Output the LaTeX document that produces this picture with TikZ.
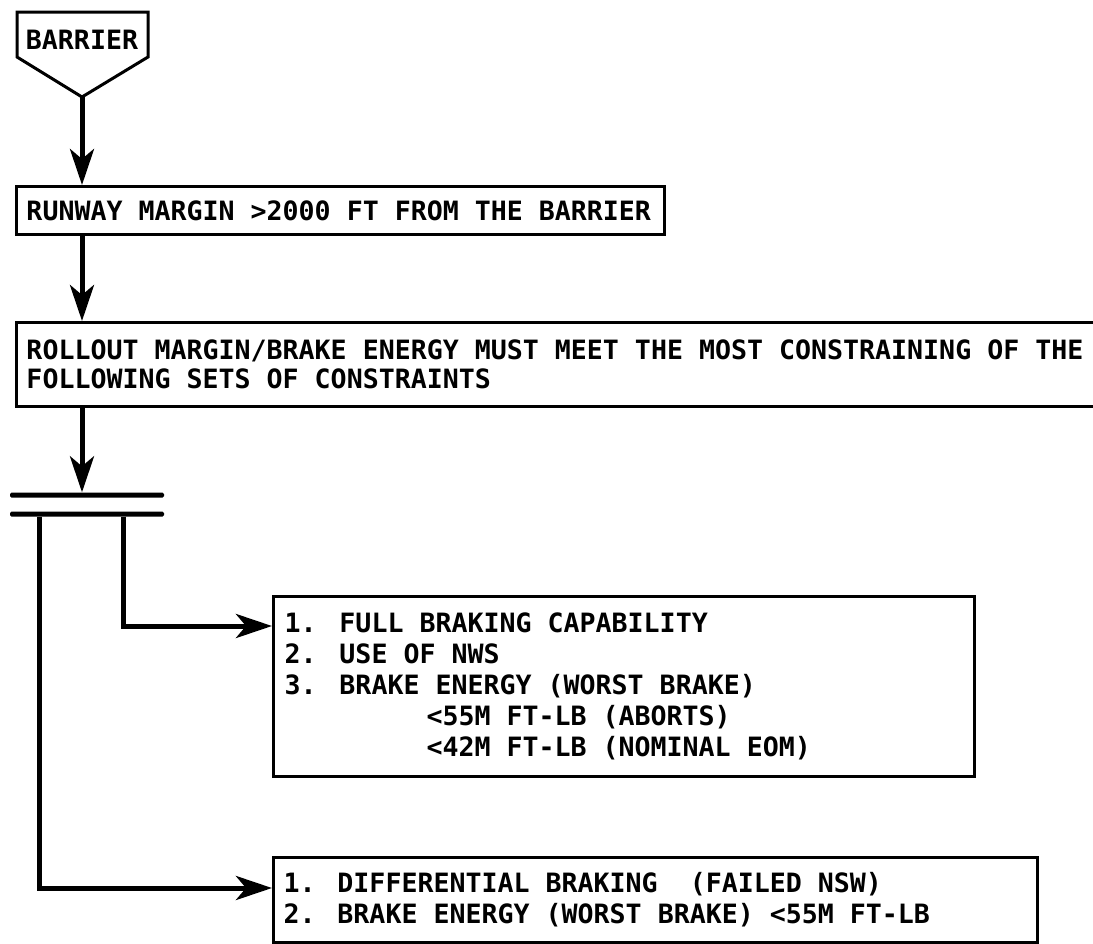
\documentclass[tikz,border=0pt]{standalone}
\usepackage{fontspec}
\newfontfamily\lettering{DejaVu Sans Mono Bold}
\usetikzlibrary{arrows.meta}
\newcommand\letterfont[1]{\lettering\fontsize{26.6}{#1}\selectfont}
\newcommand\fixsp{\spaceskip=\fontcharwd\font`A\relax\xspaceskip=\spaceskip}
\begin{document}
\begin{tikzpicture}[x=1pt,y=-1pt,
  txt/.style={font=\letterfont{31}},
  box/.style={txt, draw, line width=3pt, rectangle, inner ysep=0pt, align=left, anchor=north west},
  conn/.style={line width=5pt, -{Stealth[length=36pt,width=24pt,inset=10pt]}},
  bar/.style={fill=black, draw=none, rectangle, rounded corners=1.5pt, inner sep=0pt, minimum width=154pt, minimum height=5pt}]
\useasboundingbox (0,0) rectangle (1093,943);
\clip (0,0) rectangle (1093,943);

% barrier connector symbol
\node[txt, inner sep=0pt] (barrier) at (82,40) {BARRIER};
\coordinate (btip) at (82,97);
\draw[line width=3pt, line join=miter] (17,12) -- (148,12) -- (148,57) -- (btip) -- (17,57) -- cycle;

% boxes
\node[box, inner xsep=10pt, text width=628pt, minimum height=48pt] (runway) at (15,185)
  {\fixsp RUNWAY MARGIN >2000 FT FROM THE BARRIER};
\node[box, inner xsep=10pt, text width=1100pt, minimum height=84pt, font=\letterfont{29}] (rollout) at (15,321)
  {\fixsp ROLLOUT MARGIN/BRAKE ENERGY MUST MEET THE MOST CONSTRAINING OF THE\\
   FOLLOWING SETS OF CONSTRAINTS};

\node[bar] (bar1) at (87,495) {};
\node[bar] (bar2) at (87,514) {};

\node[box, inner xsep=11pt, text width=679pt, minimum height=180pt] (opt1) at (272,595)
  {\fixsp\makebox[55pt][l]{1.}FULL BRAKING CAPABILITY\\
   \makebox[55pt][l]{2.}USE OF NWS\\
   \makebox[55pt][l]{3.}BRAKE ENERGY (WORST BRAKE)\\
   \hspace*{142pt}<55M FT-LB (ABORTS)\\
   \hspace*{142pt}<42M FT-LB (NOMINAL EOM)};

\node[box, inner xsep=10pt, text width=744pt, minimum height=85pt] (opt2) at (272,856)
  {\fixsp\makebox[54pt][l]{1.}DIFFERENTIAL BRAKING~~(FAILED NSW)\\
   \makebox[54pt][l]{2.}BRAKE ENERGY (WORST BRAKE) <55M FT-LB};

% connectors
\draw[conn] (btip) -- (btip |- runway.north);
\draw[conn] (btip |- runway.south) -- (btip |- rollout.north);
\draw[conn] (btip |- rollout.south) -- (btip |- bar1.north);
\draw[conn] ([xshift=36pt]bar2.south) |- ([yshift=-31pt]opt1.north west);
\draw[conn] ([xshift=-48pt]bar2.south) |- ([yshift=-32pt]opt2.north west);
\end{tikzpicture}
\end{document}
